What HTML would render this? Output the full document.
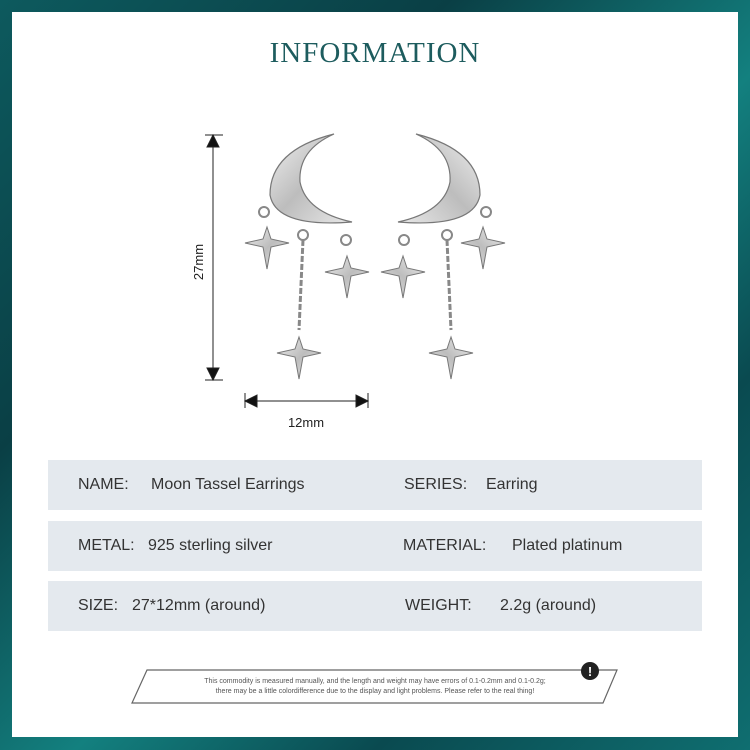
<!DOCTYPE html>
<html><head><meta charset="utf-8"><style>
*{margin:0;padding:0}
body{width:750px;height:750px;position:relative;overflow:hidden;background:linear-gradient(135deg,#0d5a5e 0%,#0a3f45 30%,#13807f 55%,#0a4a50 75%,#0f6e70 100%);font-family:"Liberation Sans",sans-serif}
.panel{position:absolute;left:12px;top:12px;width:726px;height:725px;background:#fff}
.title{position:absolute;left:0;width:750px;top:37px;text-align:center;font-family:"Liberation Serif",serif;font-size:29px;color:#1d5c5e;letter-spacing:1px}
.row{position:absolute;left:48px;width:654px;height:50px;background:#e4e9ee;font-size:16px;color:#333}
.row span{position:absolute;top:16px;white-space:nowrap}
</style></head><body>
<div class="panel"></div>
<div class="title">INFORMATION</div>
<svg width="750" height="750" style="position:absolute;left:0;top:0">
<defs>
<linearGradient id="m" x1="0" y1="0" x2="1" y2="1"><stop offset="0" stop-color="#f0f0f0"/><stop offset="0.5" stop-color="#bdbdbd"/><stop offset="1" stop-color="#e8e8e8"/></linearGradient>
<g id="star"><path d="M0,-16 L4,-4 L22,0 L4,4 L0,26 L-4,4 L-22,0 L-4,-4 Z" fill="url(#m)" stroke="#777" stroke-width="1"/></g>
<g id="ear">
<path d="M334,134 Q270,150 270,195 Q276,228 352,222 Q306,212 300,182 Q298,150 334,134 Z" fill="url(#m)" stroke="#777" stroke-width="1.2"/>
<circle cx="264" cy="212" r="5" fill="none" stroke="#888" stroke-width="2"/>
<circle cx="303" cy="235" r="5" fill="none" stroke="#888" stroke-width="2"/>
<circle cx="346" cy="240" r="5" fill="none" stroke="#888" stroke-width="2"/>
<line x1="303" y1="240" x2="299" y2="330" stroke="#888" stroke-width="3" stroke-dasharray="6,2"/>
<use href="#star" x="267" y="243"/>
<use href="#star" x="347" y="272"/>
<use href="#star" x="299" y="353"/>
</g>
</defs>
<use href="#ear"/>
<use href="#ear" transform="translate(750,0) scale(-1,1)"/>
<g stroke="#222" stroke-width="1" fill="#111">
<line x1="205" y1="135" x2="223" y2="135"/><line x1="205" y1="380" x2="223" y2="380"/>
<line x1="213" y1="145" x2="213" y2="370"/>
<path d="M207,147 L219,147 L213,135 Z"/><path d="M207,368 L219,368 L213,380 Z"/>
<line x1="245" y1="393" x2="245" y2="408"/><line x1="368" y1="393" x2="368" y2="408"/>
<line x1="255" y1="401" x2="358" y2="401"/>
<path d="M257,395 L257,407 L245,401 Z"/><path d="M356,395 L356,407 L368,401 Z"/>
</g>
<text x="203" y="262" transform="rotate(-90 203 262)" text-anchor="middle" font-family="Liberation Sans" font-size="13" fill="#222">27mm</text>
<text x="306" y="427" text-anchor="middle" font-family="Liberation Sans" font-size="13" fill="#222">12mm</text>
<path d="M147,670 L617,670 L603,703 L132,703 Z" fill="#fff" stroke="#666" stroke-width="1.2"/>
<text x="375" y="683" text-anchor="middle" font-family="Liberation Sans" font-size="7" fill="#555">This commodity is measured manually, and the length and weight may have errors of 0.1-0.2mm and 0.1-0.2g;</text>
<text x="375" y="693" text-anchor="middle" font-family="Liberation Sans" font-size="7" fill="#555">there may be a little colordifference due to the display and light problems. Please refer to the real thing!</text>
<circle cx="590" cy="671" r="9" fill="#222"/>
<text x="590" y="676" text-anchor="middle" font-family="Liberation Sans" font-weight="bold" font-size="13" fill="#fff">!</text>
</svg>
<div class="row" style="top:460px"><span style="left:30px">NAME:</span><span style="left:103px">Moon Tassel Earrings</span><span style="left:356px">SERIES:</span><span style="left:438px">Earring</span></div>
<div class="row" style="top:521px"><span style="left:30px">METAL:</span><span style="left:100px">925 sterling silver</span><span style="left:355px">MATERIAL:</span><span style="left:464px">Plated platinum</span></div>
<div class="row" style="top:581px"><span style="left:30px">SIZE:</span><span style="left:84px">27*12mm (around)</span><span style="left:357px">WEIGHT:</span><span style="left:452px">2.2g (around)</span></div>
</body></html>
